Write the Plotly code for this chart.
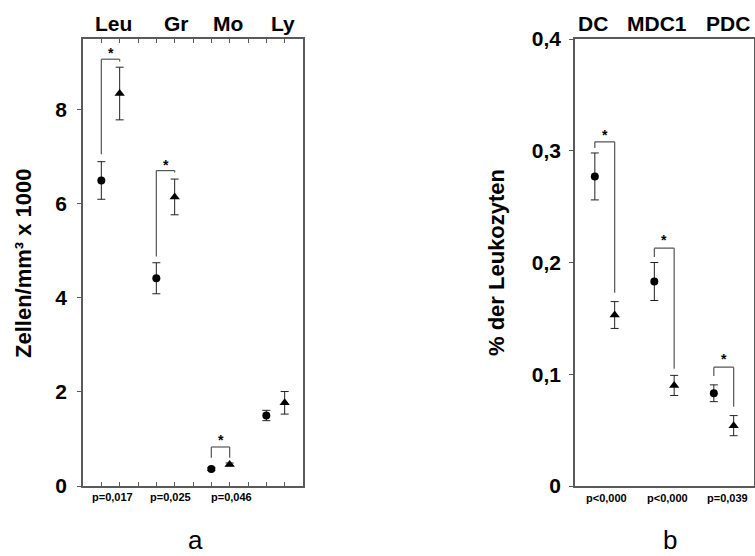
import plotly.graph_objects as go

# ---------------- data ----------------
left_categories = ["Leu", "Gr", "Mo", "Ly"]
left_circle_x = [1, 4, 7, 10]
left_triangle_x = [2, 5, 8, 11]
left_circle_mean = [6.5, 4.42, 0.36, 1.5]
left_circle_err = [0.4, 0.33, 0.03, 0.11]
left_triangle_mean = [8.35, 6.15, 0.46, 1.77]
left_triangle_err = [0.56, 0.38, 0.03, 0.24]
left_p_labels = ["p=0,017", "p=0,025", "p=0,046"]
left_yticks = [0, 2, 4, 6, 8]
left_ytick_text = ["0", "2", "4", "6", "8"]
# significance brackets: start of left leg, bracket top, end of right leg, star height
left_br_start = [7.06, 4.88, 0.6]
left_br_top = [9.08, 6.71, 0.83]
left_br_end = [9.03, 6.67, 0.6]
left_star_y = [9.27, 6.9, 1.04]

right_categories = ["DC", "MDC1", "PDC"]
right_circle_x = [1, 4, 7]
right_triangle_x = [2, 5, 8]
right_circle_mean = [0.277, 0.183, 0.083]
right_circle_err = [0.021, 0.017, 0.0075]
right_triangle_mean = [0.153, 0.090, 0.054]
right_triangle_err = [0.012, 0.009, 0.009]
right_p_labels = ["p<0,000", "p<0,000", "p=0,039"]
right_yticks = [0, 0.1, 0.2, 0.3, 0.4]
right_ytick_text = ["0", "0,1", "0,2", "0,3", "0,4"]
right_br_start = [0.3025, 0.205, 0.0985]
right_br_top = [0.308, 0.2128, 0.1063]
right_br_end = [0.173, 0.105, 0.071]
right_star_y = [0.317, 0.2225, 0.1165]

# ---------------- layout helpers ----------------
W, H = 755, 556
def px(x):
    return x / W
def py(y):
    return 1 - y / H

FONT = "Liberation Sans, Arial, Helvetica, sans-serif"
FRAME = "#5a5a5a"

fig = go.Figure()

def add_series(xs, ys, errs, symbol, size, xa, ya):
    fig.add_trace(go.Scatter(
        x=xs, y=ys, mode="markers", xaxis=xa, yaxis=ya,
        marker=dict(symbol=symbol, size=size, color="black"),
        error_y=dict(type="data", array=errs, visible=True,
                     color="#222222", thickness=1, width=4),
        showlegend=False, hoverinfo="skip"))

add_series(left_circle_x, left_circle_mean, left_circle_err, "circle", 8, "x", "y")
add_series(left_triangle_x, left_triangle_mean, left_triangle_err, "triangle-up", 9, "x", "y")
add_series(right_circle_x, right_circle_mean, right_circle_err, "circle", 8, "x2", "y2")
add_series(right_triangle_x, right_triangle_mean, right_triangle_err, "triangle-up", 9, "x2", "y2")

shapes = []
annotations = []

def brackets(cx, tx, s, t, e, sy, xr, yr):
    for i in range(len(s)):
        pts = [(cx[i], s[i]), (cx[i], t[i]), (tx[i], t[i]), (tx[i], e[i])]
        for (x0, y0), (x1, y1) in zip(pts[:-1], pts[1:]):
            shapes.append(dict(type="line", xref=xr, yref=yr, x0=x0, y0=y0, x1=x1, y1=y1,
                               line=dict(color="#555555", width=1.2)))
        annotations.append(dict(x=(cx[i] + tx[i]) / 2, y=sy[i], xref=xr, yref=yr,
                                text="*", showarrow=False, yshift=-3,
                                font=dict(family=FONT, size=14, color="black", weight="bold")))

brackets(left_circle_x, left_triangle_x, left_br_start, left_br_top, left_br_end, left_star_y, "x", "y")
brackets(right_circle_x, right_triangle_x, right_br_start, right_br_top, right_br_end, right_star_y, "x2", "y2")

def label(text, x, y, size, bold=True, angle=0):
    annotations.append(dict(x=px(x), y=py(y), xref="paper", yref="paper", text=text,
                            showarrow=False, textangle=angle, xanchor="center", yanchor="middle",
                            font=dict(family=FONT, size=size, color="black",
                                      weight="bold" if bold else "normal")))

for t, x in zip(left_categories, [113, 176, 228, 283]):
    label(t, x, 24, 21)
for t, x in zip(right_categories, [593, 657, 728]):
    label(t, x, 24, 21)
for t, x in zip(left_p_labels, [112, 170, 231]):
    label(t, x, 497, 11)
for t, x in zip(right_p_labels, [606, 667, 727]):
    label(t, x, 498, 11)
label("Zellen/mm³ x 1000", 24, 263, 22, angle=-90)
label("% der Leukozyten", 496, 262, 22, angle=-90)
label("a", 195, 540, 26, bold=False)
label("b", 670, 540, 26, bold=False)

tickfont = dict(family=FONT, size=21, color="black", weight="bold")

fig.update_layout(
    template="none",
    width=W, height=H, autosize=False, margin=dict(l=0, r=0, t=0, b=0, pad=0, autoexpand=False),
    paper_bgcolor="white", plot_bgcolor="white",
    shapes=shapes, annotations=annotations,
    xaxis=dict(domain=[px(83), px(303)], range=[0, 12], tickvals=list(range(13)),
               showticklabels=False, ticks="inside", ticklen=4, tickcolor=FRAME,
               showline=True, linecolor=FRAME, linewidth=1.5, mirror="ticks",
               showgrid=False, zeroline=False, anchor="y", automargin=False),
    yaxis=dict(domain=[py(486), py(39)], range=[0, 9.51], tickvals=left_yticks,
               ticktext=left_ytick_text, ticks="outside", ticklen=4, tickcolor=FRAME,
               tickfont=tickfont, ticklabelstandoff=6,
               showline=True, linecolor=FRAME, linewidth=1.5, mirror=True,
               showgrid=False, zeroline=False, anchor="x", automargin=False),
    xaxis2=dict(domain=[px(575), px(753.5)], range=[0, 9], showticklabels=False,
                ticks="", showline=True, linecolor=FRAME, linewidth=1.5, mirror=True,
                showgrid=False, zeroline=False, anchor="y2", automargin=False),
    yaxis2=dict(domain=[py(486), py(39)], range=[0, 0.4], tickvals=right_yticks,
                ticktext=right_ytick_text, ticks="outside", ticklen=4, tickcolor=FRAME,
                tickfont=tickfont, ticklabelstandoff=4,
                showline=True, linecolor=FRAME, linewidth=1.5, mirror=True,
                showgrid=False, zeroline=False, anchor="x2", automargin=False),
)

fig.write_html("out.html", config={"displayModeBar": False},
               post_script="document.body.style.margin='0';document.body.style.overflow='hidden';")
